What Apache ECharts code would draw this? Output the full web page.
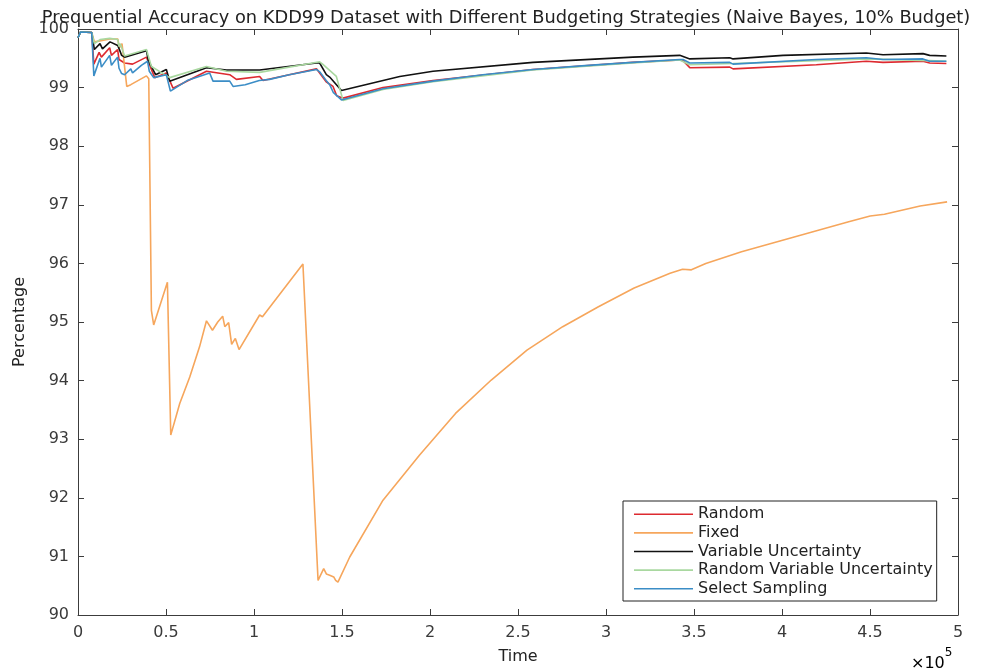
<!DOCTYPE html>
<html>
<head>
<meta charset="utf-8">
<script src="https://cdn.jsdelivr.net/npm/echarts@6/dist/echarts.min.js"></script>
<style>
  html, body { margin: 0; padding: 0; background: #fff; }
  #chart { width: 984px; height: 670px; }
</style>
</head>
<body>
<div id="chart"></div>
<script>
// Prequential accuracy (%) against time (instances), one [time, accuracy] list per strategy.
const seriesNames = ['Random', 'Fixed', 'Variable Uncertainty', 'Random Variable Uncertainty', 'Select Sampling'];
const seriesColors = ['#dd2a30', '#f6a65c', '#111111', '#a9d8a0', '#3b8dc6'];

const randomPts = [
  [0,99.85],[1500,99.95],[7800,99.94],[9000,99.40],[12000,99.60],[13300,99.52],[18000,99.68],[19000,99.55],
  [22500,99.65],[23300,99.48],[26500,99.42],[31000,99.40],[38900,99.52],[40500,99.40],[43600,99.17],
  [50200,99.25],[54000,98.99],[73000,99.28],[86200,99.22],[90000,99.14],[103200,99.19],[105100,99.12],
  [120000,99.22],[135500,99.32],[137300,99.25],[141000,99.10],[144900,99.02],[147000,98.86],[150600,98.82],
  [173300,99.00],[201700,99.12],[258500,99.31],[315300,99.43],[341900,99.47],[343800,99.46],[347600,99.34],
  [370300,99.35],[372200,99.32],[419500,99.39],[447900,99.45],[457400,99.43],[480100,99.45],[483900,99.42],
  [493400,99.41]
];

const fixedPts = [
  [0,99.85],[1500,99.95],[7800,99.94],[9300,99.78],[18200,99.83],[22600,99.83],[23500,99.68],[25000,99.75],
  [27700,99.02],[30000,99.05],[38900,99.20],[40200,99.15],[41700,95.20],[43000,94.95],[50800,95.68],
  [52700,93.07],[57800,93.61],[63500,94.06],[69100,94.58],[73000,95.02],[76400,94.86],[79400,95.00],
  [82200,95.10],[83400,94.92],[85600,94.99],[87300,94.62],[89400,94.72],[91500,94.53],[103200,95.12],
  [104800,95.09],[127800,95.99],[136400,90.59],[139600,90.79],[141100,90.70],[143000,90.68],[145300,90.65],
  [146400,90.59],[147700,90.56],[148700,90.59],[154400,90.99],[173300,91.96],[194100,92.73],[214500,93.44],
  [234800,94.01],[255100,94.52],[275400,94.92],[295700,95.26],[316000,95.58],[336400,95.83],[343500,95.90],
  [348500,95.89],[356700,96.00],[377000,96.20],[397300,96.37],[417600,96.54],[437900,96.71],[450100,96.81],
  [458200,96.84],[478500,96.98],[493800,97.05]
];

const variablePts = [
  [0,99.85],[1500,99.95],[7800,99.94],[9300,99.65],[12500,99.75],[13900,99.66],[18200,99.78],[22600,99.72],
  [24800,99.55],[26500,99.52],[38900,99.63],[40000,99.45],[41700,99.36],[44100,99.22],[50200,99.31],
  [52100,99.11],[73000,99.34],[84400,99.30],[103200,99.30],[135500,99.42],[137300,99.42],[141100,99.22],
  [143000,99.18],[149700,98.95],[182800,99.19],[201700,99.28],[258500,99.43],[315300,99.52],[341900,99.55],
  [347600,99.49],[370300,99.51],[372200,99.49],[400600,99.55],[447900,99.59],[457400,99.56],[480100,99.58],
  [483900,99.55],[493400,99.54]
];

const randomVariablePts = [
  [0,99.85],[1500,99.95],[7800,99.94],[9300,99.75],[12500,99.82],[18000,99.84],[22600,99.82],[23300,99.70],
  [24000,99.75],[26500,99.54],[38900,99.65],[40000,99.62],[41700,99.36],[52100,99.17],[73000,99.36],
  [84400,99.28],[103200,99.26],[137300,99.44],[139000,99.40],[146800,99.19],[150600,98.78],[173300,98.97],
  [201700,99.10],[258500,99.30],[315300,99.42],[341900,99.47],[347600,99.39],[372200,99.41],[419500,99.46],
  [447900,99.49],[483900,99.46],[493400,99.45]
];

const selectPts = [
  [0,99.85],[1500,99.95],[7800,99.94],[9000,99.20],[12500,99.50],[13300,99.35],[18000,99.55],[19000,99.38],
  [22500,99.52],[23300,99.33],[24800,99.24],[26500,99.22],[30000,99.32],[31000,99.25],[36000,99.38],
  [39500,99.45],[40500,99.28],[43000,99.17],[44000,99.14],[50200,99.22],[52500,98.94],[62000,99.12],
  [74800,99.25],[76700,99.11],[86200,99.11],[88100,99.02],[95000,99.05],[103000,99.12],[108900,99.14],
  [120000,99.22],[135500,99.31],[137300,99.27],[141000,99.12],[143000,99.05],[145000,98.92],[149700,98.79],
  [173300,98.98],[201700,99.11],[230000,99.22],[258500,99.31],[290000,99.38],[315300,99.43],[341900,99.48],
  [343800,99.48],[347600,99.42],[370300,99.43],[372200,99.40],[419500,99.48],[447900,99.51],[457400,99.48],
  [480100,99.49],[483900,99.45],[493400,99.45]
];

const seriesData = [randomPts, fixedPts, variablePts, randomVariablePts, selectPts];

// Axis ranges and tick steps
const xRange = [0, 500000];
const xStep = 50000;
const xScale = 1e5;
const yRange = [90, 100];
const yStep = 1;

const FONT = '"DejaVu Sans", "Liberation Sans", Arial, sans-serif';
const axisColor = '#3c3c3c';
const labelColor = '#3a3a3a';

const chart = echarts.init(document.getElementById('chart'), null, { renderer: 'canvas' });

function boxAxis(base, extra) {
  return Object.assign({
    type: 'value',
    axisLine: { show: true, onZero: false, lineStyle: { color: axisColor, width: 1 } },
    axisTick: { show: true, inside: true, length: 6, lineStyle: { color: axisColor, width: 1 } },
    splitLine: { show: false }
  }, base, extra);
}

const option = {
  animation: false,
  backgroundColor: '#fff',
  title: {
    text: 'Prequential Accuracy on KDD99 Dataset with Different Budgeting Strategies (Naive Bayes, 10% Budget)',
    left: 501, textAlign: 'center', top: 4,
    textStyle: { fontFamily: FONT, fontSize: 17.8, fontWeight: 'normal', color: '#222' }
  },
  grid: { left: 78, right: 26, top: 29, bottom: 55, containLabel: false },
  legend: {
    orient: 'vertical',
    left: 623, top: 501,
    data: seriesNames,
    icon: 'rect',
    itemWidth: 59, itemHeight: 1.6, itemGap: 0,
    padding: [4, 4, 3, 11],
    borderColor: '#222', borderWidth: 1, backgroundColor: '#fff',
    textStyle: { fontFamily: FONT, fontSize: 16, color: '#222', lineHeight: 18.6 }
  },
  xAxis: [
    boxAxis({ position: 'bottom', min: xRange[0], max: xRange[1], interval: xStep }, {
      name: 'Time', nameLocation: 'middle', nameGap: 34,
      nameTextStyle: { fontFamily: FONT, fontSize: 16, color: '#222' },
      axisLabel: { fontFamily: FONT, fontSize: 16, color: labelColor, margin: 10,
        formatter: v => String(+(v / xScale).toFixed(1)) }
    }),
    boxAxis({ position: 'top', min: xRange[0], max: xRange[1], interval: xStep }, { axisLabel: { show: false } })
  ],
  yAxis: [
    boxAxis({ position: 'left', min: yRange[0], max: yRange[1], interval: yStep }, {
      name: 'Percentage', nameLocation: 'middle', nameGap: 46, nameRotate: 90,
      nameTextStyle: { fontFamily: FONT, fontSize: 16, color: '#222' },
      axisLabel: { fontFamily: FONT, fontSize: 16, color: labelColor, margin: 9 }
    }),
    boxAxis({ position: 'right', min: yRange[0], max: yRange[1], interval: yStep }, { axisLabel: { show: false } })
  ],
  graphic: [{
    type: 'text', left: 911, top: 647,
    style: {
      text: '{a|×10}{b|5}',
      rich: {
        a: { fontFamily: FONT, fontSize: 16, color: labelColor, padding: [9, 0, 0, 0] },
        b: { fontFamily: FONT, fontSize: 12, color: labelColor, verticalAlign: 'top' }
      }
    }
  }],
  series: seriesNames.map((name, i) => ({
    name: name,
    type: 'line',
    xAxisIndex: 0, yAxisIndex: 0,
    data: seriesData[i],
    symbol: 'none',
    smooth: false,
    lineStyle: { color: seriesColors[i], width: 1.6 },
    itemStyle: { color: seriesColors[i] }
  }))
};

chart.setOption(option);
</script>
</body>
</html>
